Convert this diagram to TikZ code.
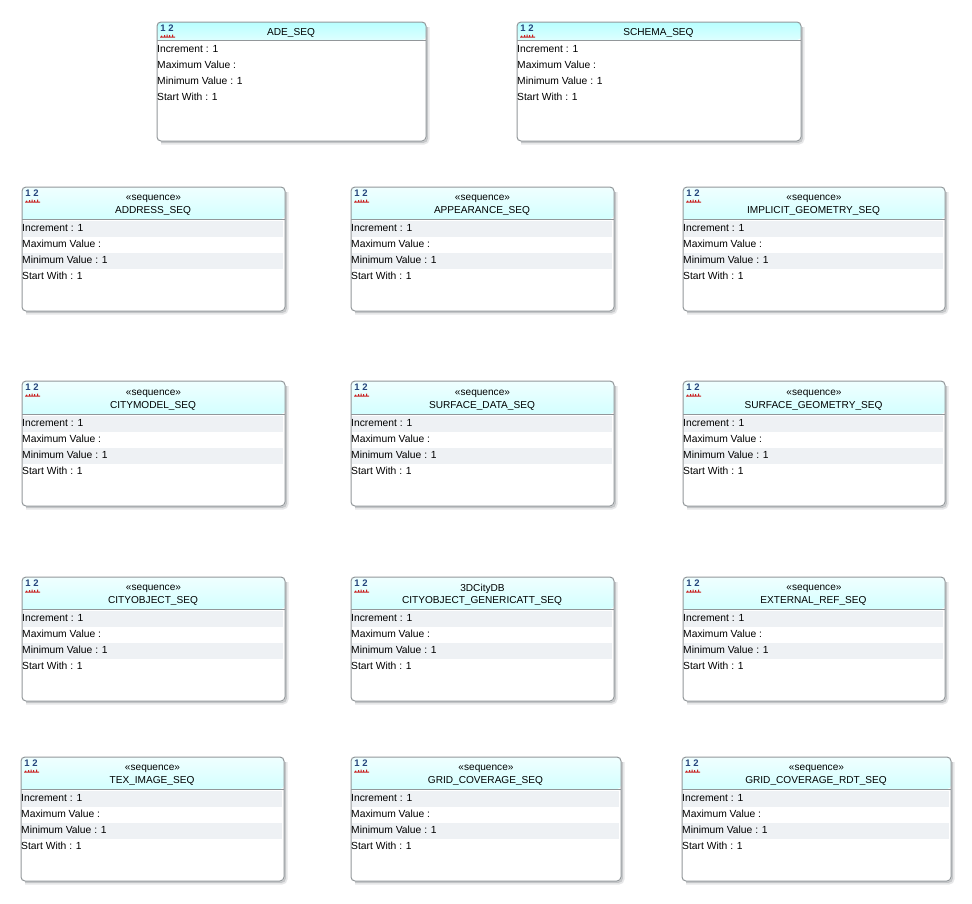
\documentclass[tikz,border=0pt]{standalone}
\usepackage{fontspec}
\setmainfont{Liberation Sans}
\definecolor{boxline}{HTML}{92979A}
\definecolor{stripe}{HTML}{EEF1F4}
\definecolor{shadein}{HTML}{C4C6C8}
\definecolor{shadeout}{HTML}{E6E7E8}
\definecolor{iconblue}{HTML}{24457C}
\definecolor{iconred}{HTML}{C81E1E}
\colorlet{hdt}{white}
\colorlet{hdb}{white}
\tikzset{
  x=1pt,y=-1pt,
  boxframe/.style={draw=boxline,line width=1pt,rounded corners=4pt,inner sep=0pt,outer sep=0pt},
  shadeouter/.style={draw=shadeout,line width=3pt,rounded corners=4pt},
  shadeinner/.style={draw=shadein,line width=1.5pt,rounded corners=4pt},
  headfill/.style={top color=hdt,bottom color=hdb,draw=none},
  rowlabel/.style={anchor=west,inner sep=0pt,font=\fontsize{10.3}{12}\selectfont,text=black},
  titlelabel/.style={anchor=center,inner sep=0pt,font=\fontsize{10.1}{12}\selectfont,text=black},
  iconlabel/.style={anchor=center,inner sep=0pt,font=\fontsize{9.5}{10}\bfseries\selectfont,text=iconblue},
}
% name, x0, y0, x1, y1, header bottom
\newcommand{\seqframe}[6]{%
  \draw[shadeouter] (#2+4,#5+2) -- (#4+2,#5+2) -- (#4+2,#3+5);
  \draw[shadeinner] (#2+4,#5+1.2) -- (#4+1.2,#5+1.2) -- (#4+1.2,#3+5);
  \path[fill=white,rounded corners=4pt] (#2,#3) rectangle (#4,#5);
  \path[headfill,rounded corners=4pt] (#2,#6) -- (#2,#3) -- (#4,#3) -- (#4,#6) [sharp corners] -- cycle;
  \draw[boxline,line width=0.8pt] (#2,#6) -- (#4,#6);
  \node[boxframe,minimum width={#4-#2},minimum height={#5-#3}] (#1) at ({(#2+#4)/2},{(#3+#5)/2}) {};
  \node[iconlabel] (#1-icon) at (#2+10,#3+6) {1 2};
  \fill[iconred] (#2+3,#3+14.5) rectangle (#2+18,#3+15.5)
    (#2+4,#3+13.5) rectangle (#2+5,#3+15) (#2+7,#3+13) rectangle (#2+8,#3+15)
    (#2+9.5,#3+12.5) rectangle (#2+10.5,#3+15) (#2+12,#3+13) rectangle (#2+13,#3+15)
    (#2+15,#3+12.5) rectangle (#2+16,#3+15);
}
\newcommand{\seqrows}[3]{%
  \node[rowlabel] (#1-inc) at (#2,#3+9) {Increment : 1};
  \node[rowlabel] (#1-max) at (#2,#3+25) {Maximum Value :};
  \node[rowlabel] (#1-min) at (#2,#3+41) {Minimum Value : 1};
  \node[rowlabel] (#1-sta) at (#2,#3+57) {Start With : 1};
}
% plain: name, title, x0, y0, x1, y1
\newcommand{\plainseq}[6]{%
  \colorlet{hdt}{cyan!28!white}\colorlet{hdb}{cyan!13!white}%
  \seqframe{#1}{#3}{#4}{#5}{#6}{#4+18}
  \node[titlelabel] (#1-title) at ({(#3+#5)/2-0.5},#4+10.5) {#2};
  \seqrows{#1}{#3}{#4+18.2}
}
% two-line: [content shift], name, first line, second line, x0, y0, x1, y1
\newcommand{\stereoseq}[8][0]{%
  \colorlet{hdt}{cyan!6!white}\colorlet{hdb}{cyan!17!white}%
  \seqframe{#2}{#5}{#6}{#7}{#8}{#6+32+#1}
  \fill[stripe] (#5+1,#6+#1+34) rectangle (#7-2,#6+#1+50);
  \fill[stripe] (#5+1,#6+#1+66) rectangle (#7-2,#6+#1+82);
  \node[titlelabel] (#2-st) at ({(#5+#7)/2},#6+#1+11.8) {#3};
  \node[titlelabel] (#2-title) at ({(#5+#7)/2-0.5},#6+#1+24) {#4};
  \seqrows{#2}{#5}{#6+#1+32}
}
\begin{document}
\begin{tikzpicture}
\useasboundingbox (0,0) rectangle (972,903);
\plainseq{ade}{ADE\_SEQ}{157}{22}{426}{141}
\plainseq{schema}{SCHEMA\_SEQ}{517}{22}{801}{141}
\stereoseq{address}{«sequence»}{ADDRESS\_SEQ}{22}{187}{285}{311}
\stereoseq{appearance}{«sequence»}{APPEARANCE\_SEQ}{351}{187}{614}{311}
\stereoseq{implicit}{«sequence»}{IMPLICIT\_GEOMETRY\_SEQ}{683}{187}{945}{311}
\stereoseq[1]{citymodel}{«sequence»}{CITYMODEL\_SEQ}{22}{381}{285}{506}
\stereoseq[1]{surfdata}{«sequence»}{SURFACE\_DATA\_SEQ}{351}{381}{614}{506}
\stereoseq[1]{surfgeom}{«sequence»}{SURFACE\_GEOMETRY\_SEQ}{683}{381}{945}{506}
\stereoseq{cityobject}{«sequence»}{CITYOBJECT\_SEQ}{22}{577}{285}{701}
\stereoseq{generic}{3DCityDB}{CITYOBJECT\_GENERICATT\_SEQ}{351}{577}{614}{701}
\stereoseq{external}{«sequence»}{EXTERNAL\_REF\_SEQ}{683}{577}{945}{701}
\stereoseq{teximage}{«sequence»}{TEX\_IMAGE\_SEQ}{21}{757}{284}{881}
\stereoseq{gridcov}{«sequence»}{GRID\_COVERAGE\_SEQ}{351}{757}{621}{881}
\stereoseq{gridrdt}{«sequence»}{GRID\_COVERAGE\_RDT\_SEQ}{682}{757}{951}{881}
\end{tikzpicture}
\end{document}
